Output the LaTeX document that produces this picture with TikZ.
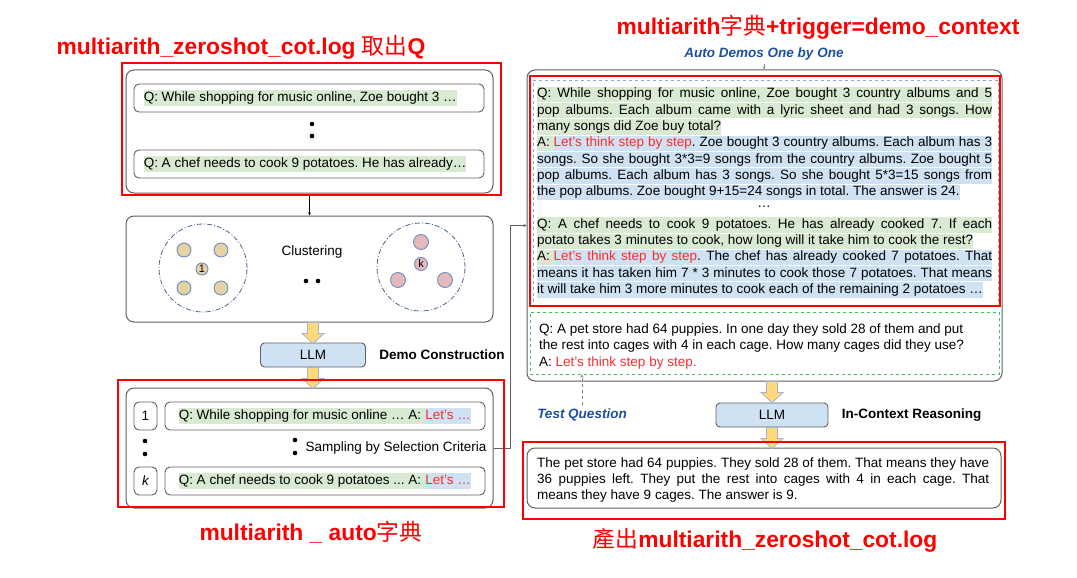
\documentclass[tikz,border=0pt]{standalone}
\usepackage{fontspec}
\setmainfont{Liberation Sans}
\newfontfamily\cjk{Noto Sans CJK TC}
\usetikzlibrary{positioning,calc}
\frenchspacing

\definecolor{qgreen}{HTML}{D9EAD3}
\definecolor{ablue}{HTML}{CFE2F3}
\definecolor{boxgray}{HTML}{5F5F5F}
\definecolor{markred}{HTML}{FF0000}
\definecolor{cuered}{HTML}{FF2B2B}
\definecolor{labelblue}{HTML}{1C4FA0}
\definecolor{ringblue}{HTML}{4A6491}
\definecolor{seedline}{HTML}{6C8EBF}
\definecolor{tanfill}{HTML}{E6D2A4}
\definecolor{pinkfill}{HTML}{E5B9BC}
\definecolor{arrowfill}{HTML}{FFD97A}
\definecolor{arrowline}{HTML}{A4B4CF}
\definecolor{testgreen}{HTML}{3DBE6B}
\definecolor{demoblue}{HTML}{8FA8D8}

\newcommand{\basefont}{\fontsize{13.5}{16.3}\selectfont}
\newcommand{\cue}[1]{\textcolor{cuered}{#1}}
\newcommand{\jline}[2][455pt]{\makebox[#1][s]{#2}}
\newcommand{\apre}{{\fboxsep=0pt\colorbox{qgreen}{\rule[-4.3pt]{0pt}{15.3pt}A:\ }}}

\tikzset{
  panel/.style={draw=boxgray, line width=1pt, rounded corners=8pt, inner sep=0pt},
  slot/.style={draw=boxgray, line width=0.9pt, rounded corners=5pt, inner sep=0pt, minimum height=28pt},
  hlline/.style={inner sep=0pt, text height=11pt, text depth=4.3pt, anchor=west},
  qline/.style={hlline, fill=qgreen},
  aline/.style={hlline, fill=ablue},
  llm/.style={draw=boxgray, fill=ablue, rounded corners=4pt, minimum height=24pt, line width=0.9pt},
  fat/.pic={\draw[draw=arrowline, fill=arrowfill, line width=0.8pt]
    (-5.5,0) -- (5.5,0) -- (5.5,11) -- (11,11) -- (0,21) -- (-11,11) -- (-5.5,11) -- cycle;},
  markbox/.style={draw=markred, line width=2.3pt},
  marktitle/.style={text=markred, font=\fontsize{22.8}{26}\selectfont\bfseries},
  ring/.style={circle, draw=ringblue, dash pattern=on 5pt off 2pt on 1pt off 2pt,
    minimum size=88pt, line width=0.8pt},
  seedA/.style={draw=seedline, fill=tanfill, line width=0.9pt},
  seedB/.style={draw=seedline, fill=pinkfill, line width=0.9pt},
  cuelabel/.style={text=labelblue, font=\basefont\bfseries\itshape},
}

\begin{document}
\begin{tikzpicture}[x=1pt, y=-1pt, >=stealth, every node/.style={font=\basefont}]
  \useasboundingbox (0,0) rectangle (1077,578);

  % Question pool
  \node[panel, minimum width=367pt, minimum height=123pt] (pool) at (309.5,131.5) {};
  \node[slot, minimum width=350pt] (slot1) at (309,98) {};
  \node[qline, right=10pt of slot1.west] (q1) {Q: While shopping for music online, Zoe bought 3 …};
  \node[slot, minimum width=350pt] (slot2) at (309,164) {};
  \node[qline, right=10pt of slot2.west] (q2) {Q: A chef needs to cook 9 potatoes. He has already…};
  \fill (312,124) circle (2.3) (312,136) circle (2.3);

  % Clustering
  \node[panel, minimum width=367pt, minimum height=106pt] (clu) at (309.5,269) {};
  \draw[->] (pool) -- (clu);
  \node[ring] (ring1) at (203,268) {};
  \node[ring] (ringk) at (421,267) {};
  \foreach \p in {(184,250),(221,250),(184,288),(221,288)}
    \draw[seedA] \p circle (7);
  \node[circle, seedA, inner sep=0pt, minimum size=12pt, font=\fontsize{11}{12}\selectfont] (c1) at (202,269) {1};
  \foreach \p in {(421,242),(398,280),(445,280)}
    \draw[seedB] \p circle (7.5);
  \node[circle, seedB, inner sep=0pt, minimum size=13pt, font=\fontsize{11}{12}\selectfont] (ck) at (421,264) {k};
  \node (clus) at (312,252) {Clustering};
  \fill (306,281) circle (2.3) (318,281) circle (2.3);

  % Demo construction
  \node[llm, minimum width=105pt] (llm1) at (313,355) {LLM};
  \node[right=10pt of llm1, font=\basefont\bfseries] (dc) {Demo Construction};
  \node[panel, minimum width=367pt, minimum height=120pt] (sbox) at (309.5,448) {};
  \pic at (llm1.north |- clu.south) {fat};
  \pic at (llm1.south) {fat};

  % Sampled demos
  \node[slot, minimum width=23pt] (n1) at (145.5,416) {1};
  \node[slot, minimum width=320pt] (d1) at (325,416) {};
  \node[qline, right=14pt of d1.west] (d1q) {Q: While shopping for music online … A:\kern0.28em};
  \node[aline, right=0pt of d1q] (d1a) {\cue{Let’s …}};
  \node[slot, minimum width=23pt, font=\basefont\itshape] (nk) at (145.5,481) {k};
  \node[slot, minimum width=320pt] (dk) at (325,481) {};
  \node[qline, right=14pt of dk.west] (dkq) {Q: A chef needs to cook 9 potatoes ... A:\kern0.28em};
  \node[aline, right=0pt of dkq] (dka) {\cue{Let’s …}};
  \fill (145,441) circle (2.3) (145,454) circle (2.3) (295,440) circle (2.3) (295,453) circle (2.3);
  \node[anchor=west] (crit) at (302,448) {Sampling by Selection Criteria};

  % Context for in-context reasoning
  \node[panel, minimum width=475pt, minimum height=311pt] (ctx) at (764.5,225.5) {};
  \draw[->, boxgray] (sbox.east) -- ++(17,0) |- (ctx.west);
  \node[cuelabel] (auto) at (764,54) {Auto Demos One by One};
  \draw[dashed, ->, gray] (auto) -- (auto |- ctx.north);
  \node[draw=demoblue, dashed, line width=0.9pt, minimum width=465pt, minimum height=225pt] (demos) at (765.5,192.5) {};
  \node[qline] (qa1) at (537,94.5) {\jline{Q: While shopping for music online, Zoe bought 3 country albums and 5}};
  \node[qline] (qa2) at (537,110.8) {\jline{pop albums. Each album came with a lyric sheet and had 3 songs. How}};
  \node[qline] (qa3) at (537,127.1) {many songs did Zoe buy total?};
  \node[aline] (aa1) at (537,143.4) {\jline{\apre\cue{Let’s think step by step}. Zoe bought 3 country albums. Each album has 3}};
  \node[aline] (aa2) at (537,159.7) {\jline{songs. So she bought 3*3=9 songs from the country albums. Zoe bought 5}};
  \node[aline] (aa3) at (537,176) {\jline{pop albums. Each album has 3 songs. So she bought 5*3=15 songs from}};
  \node[aline] (aa4) at (537,192.3) {the pop albums. Zoe bought 9+15=24 songs in total. The answer is 24.};
  \node (gap) at (764,206.5) {…};
  \node[qline] (qb1) at (537,224.9) {\jline{Q: A chef needs to cook 9 potatoes. He has already cooked 7. If each}};
  \node[qline] (qb2) at (537,241.2) {potato takes 3 minutes to cook, how long will it take him to cook the rest?};
  \node[aline] (ab1) at (537,257.5) {\jline{\apre\cue{Let’s think step by step}. The chef has already cooked 7 potatoes. That}};
  \node[aline] (ab2) at (537,273.8) {\jline{means it has taken him 7 * 3 minutes to cook those 7 potatoes. That means}};
  \node[aline] (ab3) at (537,290.1) {it will take him 3 more minutes to cook each of the remaining 2 potatoes …};

  % Test question
  \node[draw=testgreen, dashed, line width=0.9pt, minimum width=469pt, minimum height=62pt] (test) at (764.5,343) {};
  \node[anchor=west, align=left, inner sep=0pt] (tq) at (539,346.5)
    {Q: A pet store had 64 puppies. In one day they sold 28 of them and put\\
     the rest into cages with 4 in each cage. How many cages did they use?\\
     A: \cue{Let’s think step by step.}};
  \node[cuelabel] (tql) at (582,415) {Test Question};
  \draw[dashed, ->, gray] (tql.north) -- (tql.north |- test.south);

  % In-context reasoning
  \node[llm, minimum width=112pt] (llm2) at (772,415) {LLM};
  \node[right=10pt of llm2, font=\basefont\bfseries] (icr) {In-Context Reasoning};
  \node[panel, minimum width=474pt, minimum height=60pt] (out) at (764,478) {};
  \pic at (llm2.north |- ctx.south) {fat};
  \pic at (llm2.south) {fat};
  \node[anchor=west, align=left, inner sep=0pt] (ans) at (537,480)
    {\jline[452pt]{The pet store had 64 puppies. They sold 28 of them. That means they have}\\
     \jline[452pt]{36 puppies left. They put the rest into cages with 4 in each cage. That}\\
     means they have 9 cages. The answer is 9.};

  % Red notes
  \draw[markbox] (122,63) rectangle (501,195);
  \draw[markbox] (530,76) rectangle (1000,306);
  \draw[markbox] (118,380) rectangle (504,507);
  \draw[markbox] (523,442) rectangle (1005,519);
  \node[marktitle] (t1) at (241,47) {multiarith\_zeroshot\_cot.log {\cjk\mdseries 取出}Q};
  \node[marktitle] (t2) at (818,27) {multiarith{\cjk\mdseries 字典}+trigger=demo\_context};
  \node[marktitle] (t3) at (311,532) {multiarith \_ auto{\cjk\mdseries 字典}};
  \node[marktitle] (t4) at (765,540) {{\cjk\mdseries 產出}multiarith\_zeroshot\_cot.log};
\end{tikzpicture}
\end{document}
